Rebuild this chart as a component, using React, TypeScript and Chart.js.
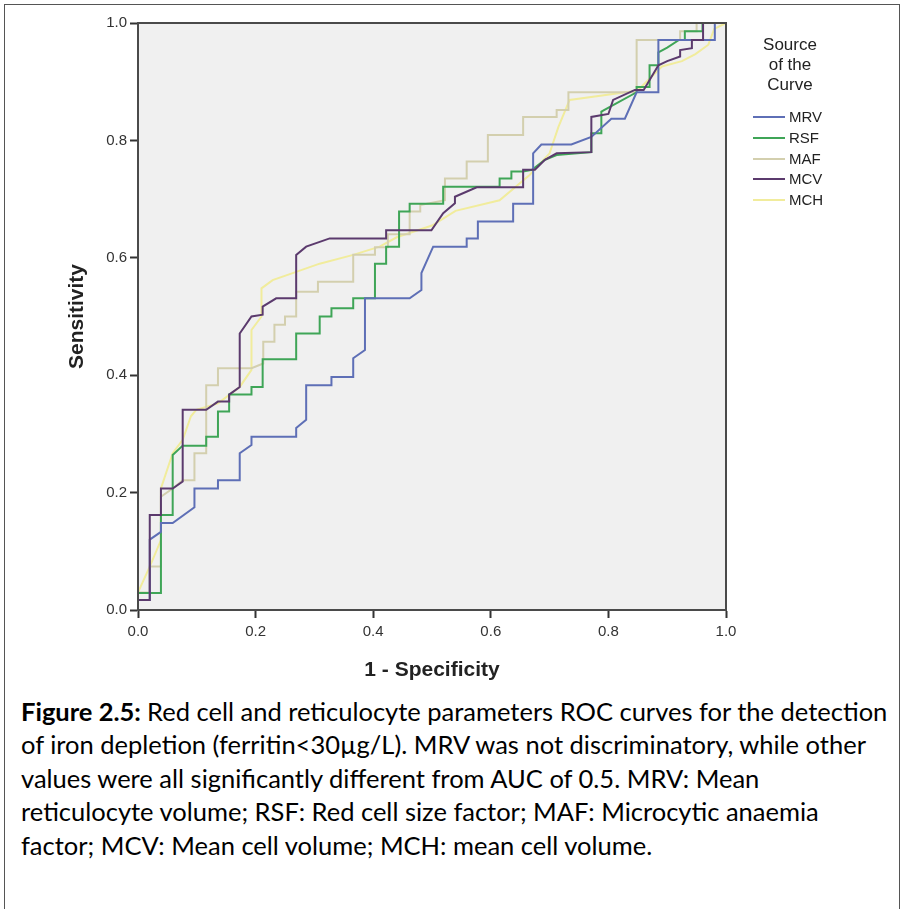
import React, { useEffect, useRef } from 'react';
import { Chart, registerables } from 'chart.js';

Chart.register(...registerables);

// ---- Data ----
const seriesNames = ['MRV', 'RSF', 'MAF', 'MCV', 'MCH'];
const seriesColors = ['#5e6fb6', '#3fa557', '#d3cfae', '#5b3a6d', '#f1ec9c'];
const tickValues = [0, 0.2, 0.4, 0.6, 0.8, 1.0];

const mrvFpr = [0, 0, 0.02, 0.02, 0.039, 0.039, 0.059, 0.096, 0.096, 0.136, 0.136, 0.173, 0.173, 0.193, 0.193, 0.269, 0.269, 0.286, 0.286, 0.329, 0.329, 0.366, 0.366, 0.386, 0.386, 0.462, 0.482, 0.482, 0.502, 0.559, 0.559, 0.578, 0.578, 0.638, 0.638, 0.672, 0.672, 0.686, 0.737, 0.771, 0.805, 0.828, 0.848, 0.885, 0.885, 0.981, 0.981, 1];
const mrvTpr = [0, 0.017, 0.017, 0.12, 0.133, 0.148, 0.148, 0.175, 0.207, 0.207, 0.221, 0.221, 0.267, 0.281, 0.295, 0.295, 0.31, 0.324, 0.383, 0.383, 0.397, 0.397, 0.429, 0.443, 0.531, 0.531, 0.545, 0.574, 0.619, 0.619, 0.633, 0.633, 0.662, 0.662, 0.692, 0.692, 0.778, 0.793, 0.793, 0.806, 0.837, 0.837, 0.882, 0.882, 0.971, 0.971, 1, 1];

const rsfFpr = [0, 0, 0.039, 0.039, 0.059, 0.059, 0.076, 0.116, 0.116, 0.136, 0.136, 0.155, 0.155, 0.193, 0.193, 0.212, 0.212, 0.269, 0.269, 0.309, 0.309, 0.329, 0.329, 0.366, 0.366, 0.403, 0.403, 0.422, 0.422, 0.444, 0.444, 0.462, 0.462, 0.519, 0.519, 0.615, 0.615, 0.635, 0.635, 0.655, 0.67, 0.692, 0.712, 0.771, 0.771, 0.788, 0.788, 0.808, 0.848, 0.848, 0.87, 0.87, 0.885, 0.885, 0.9, 0.92, 0.93, 0.93, 0.96, 0.96, 1];
const rsfTpr = [0, 0.029, 0.029, 0.162, 0.162, 0.264, 0.28, 0.28, 0.295, 0.295, 0.338, 0.338, 0.367, 0.367, 0.38, 0.38, 0.427, 0.427, 0.471, 0.471, 0.5, 0.5, 0.514, 0.514, 0.531, 0.531, 0.59, 0.59, 0.619, 0.619, 0.679, 0.679, 0.692, 0.692, 0.721, 0.721, 0.735, 0.735, 0.747, 0.747, 0.75, 0.767, 0.775, 0.78, 0.812, 0.812, 0.849, 0.86, 0.882, 0.891, 0.891, 0.928, 0.928, 0.95, 0.958, 0.971, 0.971, 0.986, 0.986, 1, 1];

const mafFpr = [0, 0, 0.02, 0.02, 0.039, 0.039, 0.059, 0.076, 0.096, 0.096, 0.116, 0.116, 0.136, 0.136, 0.193, 0.213, 0.213, 0.232, 0.232, 0.25, 0.25, 0.269, 0.269, 0.306, 0.306, 0.366, 0.366, 0.403, 0.403, 0.425, 0.425, 0.462, 0.462, 0.48, 0.48, 0.522, 0.522, 0.559, 0.559, 0.595, 0.595, 0.655, 0.655, 0.712, 0.712, 0.732, 0.732, 0.848, 0.848, 0.922, 0.922, 0.95, 0.95, 1];
const mafTpr = [0, 0.03, 0.03, 0.074, 0.074, 0.193, 0.207, 0.221, 0.221, 0.267, 0.267, 0.383, 0.383, 0.412, 0.412, 0.42, 0.457, 0.457, 0.486, 0.486, 0.5, 0.5, 0.542, 0.542, 0.559, 0.559, 0.605, 0.605, 0.618, 0.618, 0.64, 0.64, 0.679, 0.679, 0.69, 0.698, 0.735, 0.735, 0.764, 0.764, 0.809, 0.809, 0.84, 0.84, 0.852, 0.852, 0.882, 0.882, 0.971, 0.971, 0.986, 0.986, 1, 1];

const mcvFpr = [0, 0, 0.02, 0.02, 0.039, 0.039, 0.059, 0.076, 0.076, 0.116, 0.136, 0.155, 0.155, 0.173, 0.173, 0.193, 0.212, 0.212, 0.235, 0.269, 0.269, 0.286, 0.326, 0.422, 0.422, 0.499, 0.519, 0.539, 0.539, 0.576, 0.655, 0.655, 0.675, 0.692, 0.712, 0.771, 0.771, 0.8, 0.808, 0.845, 0.86, 0.885, 0.9, 0.922, 0.922, 0.942, 0.942, 0.961, 0.961, 1];
const mcvTpr = [0, 0.017, 0.017, 0.162, 0.162, 0.207, 0.207, 0.219, 0.341, 0.341, 0.355, 0.355, 0.367, 0.38, 0.471, 0.5, 0.503, 0.517, 0.531, 0.531, 0.605, 0.619, 0.633, 0.633, 0.647, 0.647, 0.676, 0.693, 0.704, 0.72, 0.72, 0.75, 0.75, 0.767, 0.778, 0.78, 0.84, 0.845, 0.869, 0.886, 0.886, 0.928, 0.935, 0.943, 0.954, 0.957, 0.971, 0.971, 1, 1];

const mchFpr = [0, 0, 0.02, 0.039, 0.039, 0.059, 0.076, 0.09, 0.099, 0.136, 0.173, 0.193, 0.193, 0.21, 0.21, 0.229, 0.269, 0.309, 0.366, 0.411, 0.44, 0.5, 0.54, 0.615, 0.666, 0.7, 0.715, 0.734, 0.814, 0.85, 0.891, 0.925, 0.948, 0.97, 0.98, 1];
const mchTpr = [0, 0.03, 0.074, 0.119, 0.207, 0.267, 0.29, 0.33, 0.341, 0.352, 0.38, 0.409, 0.477, 0.5, 0.548, 0.562, 0.576, 0.59, 0.605, 0.619, 0.635, 0.655, 0.68, 0.698, 0.741, 0.778, 0.823, 0.869, 0.88, 0.885, 0.926, 0.935, 0.947, 0.963, 0.99, 1];

const seriesFpr = [mrvFpr, rsfFpr, mafFpr, mcvFpr, mchFpr];
const seriesTpr = [mrvTpr, rsfTpr, mafTpr, mcvTpr, mchTpr];
const seriesOrder = [1, 2, 3, 0, 4];

const xTitle = '1 - Specificity';
const yTitle = 'Sensitivity';
const legendTitle = ['Source', 'of the', 'Curve'];
const captionLines = [
  'Red cell and reticulocyte parameters ROC curves for the detection',
  'of iron depletion (ferritin<30µg/L). MRV was not discriminatory, while other',
  'values were all significantly different from AUC of 0.5. MRV: Mean',
  'reticulocyte volume; RSF: Red cell size factor; MAF: Microcytic anaemia',
  'factor; MCV: Mean cell volume; MCH: mean cell volume.',
];
const captionLabel = 'Figure 2.5:';

const AXIS_FONT = '"Liberation Sans", Arial, sans-serif';

const plotFrame = {
  id: 'plotFrame',
  beforeDraw(chart: any) {
    const { ctx, chartArea: a } = chart;
    ctx.save();
    ctx.fillStyle = '#f0f0f0';
    ctx.fillRect(a.left, a.top, a.right - a.left, a.bottom - a.top);
    ctx.restore();
  },
  afterDatasetsDraw(chart: any) {
    const { ctx, chartArea: a } = chart;
    ctx.save();
    ctx.strokeStyle = '#4a4a4a';
    ctx.lineWidth = 2;
    ctx.strokeRect(a.left, a.top, a.right - a.left, a.bottom - a.top);
    ctx.restore();
  },
};

export default function App() {
  const ref = useRef<HTMLCanvasElement>(null);

  useEffect(() => {
    if (!ref.current) return;
    const datasets = seriesNames.map((name, i) => ({
      label: name,
      data: seriesFpr[i].map((x, j) => ({ x, y: seriesTpr[i][j] })),
      borderColor: seriesColors[i],
      backgroundColor: seriesColors[i],
      borderWidth: 2,
      pointRadius: 0,
      showLine: true,
      fill: false,
      tension: 0,
      clip: 4,
      order: seriesOrder[i],
    }));

    const chart = new Chart(ref.current, {
      type: 'scatter',
      data: { datasets },
      plugins: [plotFrame],
      options: {
        animation: false,
        responsive: false,
        events: [],
        layout: { padding: { left: 0, top: 23, right: 177, bottom: 0 } },
        plugins: { legend: { display: false }, tooltip: { enabled: false } },
        scales: {
          x: {
            type: 'linear',
            min: 0,
            max: 1,
            afterFit: (s: any) => { s.height = 80; },
            afterBuildTicks: (s: any) => { s.ticks = tickValues.map((v) => ({ value: v })); },
            ticks: {
              color: '#333',
              padding: 5,
              maxRotation: 0,
              font: { family: AXIS_FONT, size: 15 },
              callback: (v: any) => Number(v).toFixed(1),
            },
            grid: { drawOnChartArea: false, drawTicks: true, tickLength: 8, tickColor: '#333', tickWidth: 2 },
            border: { display: true, color: '#333', width: 2 },
            title: {
              display: true,
              text: xTitle,
              color: '#222',
              font: { family: AXIS_FONT, size: 21, weight: 'bold' },
              padding: { top: 0, bottom: 7 },
            },
          },
          y: {
            type: 'linear',
            min: 0,
            max: 1,
            afterFit: (s: any) => { s.width = 138; },
            afterBuildTicks: (s: any) => { s.ticks = tickValues.map((v) => ({ value: v })); },
            ticks: {
              color: '#333',
              padding: 3,
              font: { family: AXIS_FONT, size: 15 },
              callback: (v: any) => Number(v).toFixed(1),
            },
            grid: { drawOnChartArea: false, drawTicks: true, tickLength: 8, tickColor: '#333', tickWidth: 2 },
            border: { display: true, color: '#333', width: 2 },
            title: {
              display: true,
              text: yTitle,
              color: '#222',
              font: { family: AXIS_FONT, size: 21, weight: 'bold' },
              padding: { top: 65, bottom: 0 },
            },
          },
        },
      } as any,
    });
    return () => chart.destroy();
  }, []);

  return (
    <div style={{ position: 'absolute', left: 0, top: 0, width: 903, height: 909, overflow: 'hidden', background: '#fff' }}>
      <div style={{ position: 'absolute', left: 4, top: 4, width: 894, height: 1000, borderTop: '1.5px solid #555', borderLeft: '1.5px solid #555', borderRight: '1.5px solid #555' }} />
      <canvas ref={ref} width={903} height={690} style={{ position: 'absolute', left: 0, top: 0, width: 903, height: 690 }} />
      <div style={{ position: 'absolute', left: 740, top: 35, width: 100, textAlign: 'center', fontFamily: AXIS_FONT, fontSize: 17, lineHeight: '20px', color: '#222' }}>
        {legendTitle.map((t) => (<div key={t}>{t}</div>))}
      </div>
      {seriesNames.map((name, i) => (
        <div key={name} style={{ position: 'absolute', left: 753, top: 107 + i * 20.8, height: 20, width: 100 }}>
          <div style={{ position: 'absolute', left: 0, top: 9, width: 32, height: 2, background: seriesColors[i] }} />
          <div style={{ position: 'absolute', left: 36, top: 0, lineHeight: '20px', fontFamily: AXIS_FONT, fontSize: 15, color: '#222' }}>{name}</div>
        </div>
      ))}
      <div style={{ position: 'absolute', left: 21, top: 695, fontFamily: 'Lato, "Open Sans", sans-serif', fontSize: 25.5, lineHeight: '33.4px', color: '#000', whiteSpace: 'nowrap' }}>
        {captionLines.map((line, i) => (
          <div key={i}>
            {i === 0 ? <b>{captionLabel} </b> : null}
            {line}
          </div>
        ))}
      </div>
    </div>
  );
}
